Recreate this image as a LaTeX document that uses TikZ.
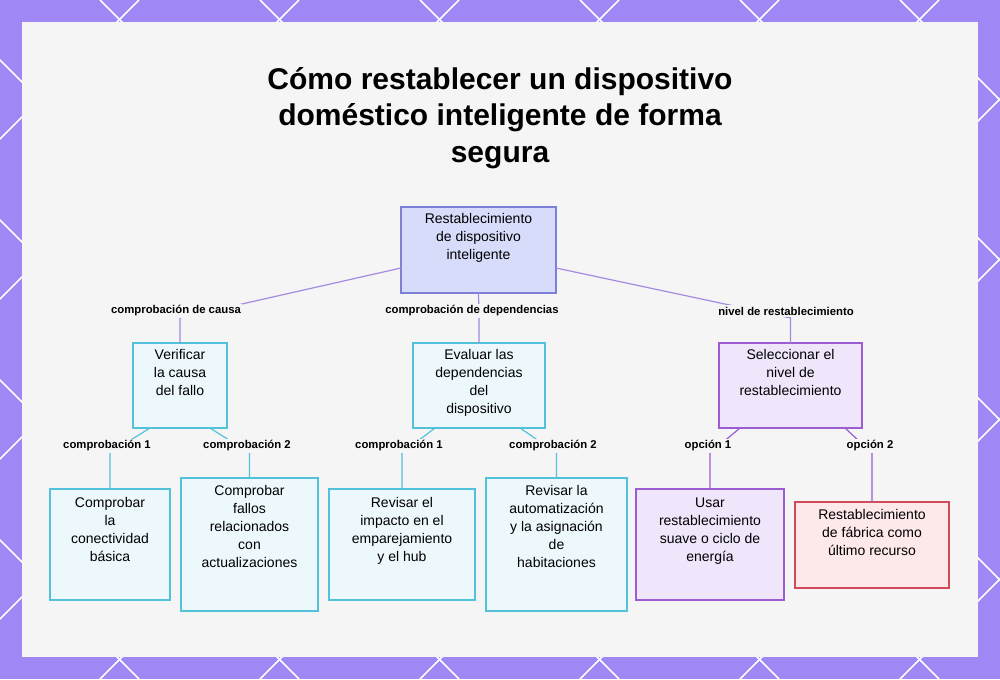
\documentclass[tikz,border=0pt]{standalone}
\usepackage{fontspec}
\setmainfont{Liberation Sans}
\usetikzlibrary{positioning}
\definecolor{bgpurple}{HTML}{9F87F5}
\definecolor{panel}{HTML}{F5F5F6}
\definecolor{rootfill}{HTML}{D8DCFB}
\definecolor{rootdraw}{HTML}{7D80D8}
\definecolor{cyanfill}{HTML}{ECF8FC}
\definecolor{cyandraw}{HTML}{52C2DA}
\definecolor{purfill}{HTML}{F0E6FB}
\definecolor{purdraw}{HTML}{9C5CD2}
\definecolor{redfill}{HTML}{FDE8EA}
\definecolor{reddraw}{HTML}{D04A5C}
\definecolor{toplink}{HTML}{A58BE0}
\tikzset{
  box/.style={draw, line width=0.9pt, font=\fontsize{10.5}{13.5}\selectfont, align=center, inner sep=0pt},
  cbox/.style={box, draw=cyandraw, fill=cyanfill},
  pbox/.style={box, draw=purdraw, fill=purfill},
  lab/.style={font=\bfseries\fontsize{8.5}{10}\selectfont, inner sep=1pt},
  link/.style={line width=0.9pt},
}
\begin{document}
\begin{tikzpicture}[x=0.75pt,y=-0.75pt]
\useasboundingbox (0,0) rectangle (1000,679);
% frame
\fill[bgpurple] (0,0) rectangle (1000,679);
\begin{scope}
\clip (0,0) rectangle (1000,679);
\foreach \s in {-700,-540,...,1700}
  \draw[white, line width=1.2pt] (\s,0) -- (\s+679,679) (\s,679) -- (\s+679,0);
\end{scope}
\fill[panel] (22,22) rectangle (978,657);

% title
\node[font=\bfseries\fontsize{22.5}{27.5}\selectfont, align=center] (title) at (500,118)
  {Cómo restablecer un dispositivo\\doméstico inteligente de forma\\segura};

% boxes
\draw[box, draw=rootdraw, fill=rootfill] (401,207) rectangle (556,293);
\node[box, draw=none, anchor=north] (root) at (478.5,213) {Restablecimiento\\de dispositivo\\inteligente};
\coordinate (rootS) at (478.5,293);
\coordinate (rootW) at (401,268);
\coordinate (rootE) at (556,268);

\draw[cbox] (133,343) rectangle (227,428);
\node[box, draw=none, anchor=north] (chkA) at (180,349) {Verificar\\la causa\\del fallo};
\draw[cbox] (413,343) rectangle (545,428);
\node[box, draw=none, anchor=north] (chkB) at (479,349) {Evaluar las\\dependencias\\del\\dispositivo};
\draw[pbox] (719,343) rectangle (862,428);
\node[box, draw=none, anchor=north] (chkC) at (790.5,349) {Seleccionar el\\nivel de\\restablecimiento};

\draw[cbox] (50,489) rectangle (170,600);
\node[box, draw=none, anchor=north] (a1) at (110,497) {Comprobar\\la\\conectividad\\básica};
\draw[cbox] (181,478) rectangle (318,611);
\node[box, draw=none, anchor=north] (a2) at (249.5,485) {Comprobar\\fallos\\relacionados\\con\\actualizaciones};
\draw[cbox] (329,489) rectangle (475,600);
\node[box, draw=none, anchor=north] (b1) at (402,497) {Revisar el\\impacto en el\\emparejamiento\\y el hub};
\draw[cbox] (486,478) rectangle (627,611);
\node[box, draw=none, anchor=north] (b2) at (556.5,485) {Revisar la\\automatización\\y la asignación\\de\\habitaciones};
\draw[pbox] (636,489) rectangle (784,600);
\node[box, draw=none, anchor=north] (c1) at (710,497) {Usar\\restablecimiento\\suave o ciclo de\\energía};
\draw[box, draw=reddraw, fill=redfill] (795,502) rectangle (949,588);
\node[box, draw=none, anchor=north] (c2) at (872,509) {Restablecimiento\\de fábrica como\\último recurso};

% labels
\node[lab] (lA) at (176,311) {comprobación de causa};
\node[lab] (lB) at (472,311) {comprobación de dependencias};
\node[lab] (lC) at (786,311) {nivel de restablecimiento};
\node[lab] (la1) at (107,446) {comprobación 1};
\node[lab] (la2) at (247,446) {comprobación 2};
\node[lab] (lb1) at (399,446) {comprobación 1};
\node[lab] (lb2) at (553,446) {comprobación 2};
\node[lab] (lc1) at (708,446) {opción 1};
\node[lab] (lc2) at (870,446) {opción 2};

% connectors
\draw[link, toplink] (rootW) -- (180,318) -- (180,343);
\draw[link, toplink] (rootS) -- (479,318) -- (479,343);
\draw[link, toplink] (rootE) -- (790.5,318) -- (790.5,343);
\draw[link, cyandraw] (150,428) -- (110,453) -- (110,489);
\draw[link, cyandraw] (210,428) -- (249.5,453) -- (249.5,478);
\draw[link, cyandraw] (435,428) -- (402,453) -- (402,489);
\draw[link, cyandraw] (520,428) -- (556.5,453) -- (556.5,478);
\draw[link, purdraw] (740,428) -- (710,453) -- (710,489);
\draw[link, purdraw] (845,428) -- (872,453) -- (872,502);
% redraw labels over the lines
\foreach \n in {lA,lB,lC,la1,la2,lb1,lb2,lc1,lc2}
  \fill[panel] (\n.south west) rectangle (\n.north east);
\node[lab] at (lA) {comprobación de causa};
\node[lab] at (lB) {comprobación de dependencias};
\node[lab] at (lC) {nivel de restablecimiento};
\node[lab] at (la1) {comprobación 1};
\node[lab] at (la2) {comprobación 2};
\node[lab] at (lb1) {comprobación 1};
\node[lab] at (lb2) {comprobación 2};
\node[lab] at (lc1) {opción 1};
\node[lab] at (lc2) {opción 2};
\end{tikzpicture}
\end{document}
